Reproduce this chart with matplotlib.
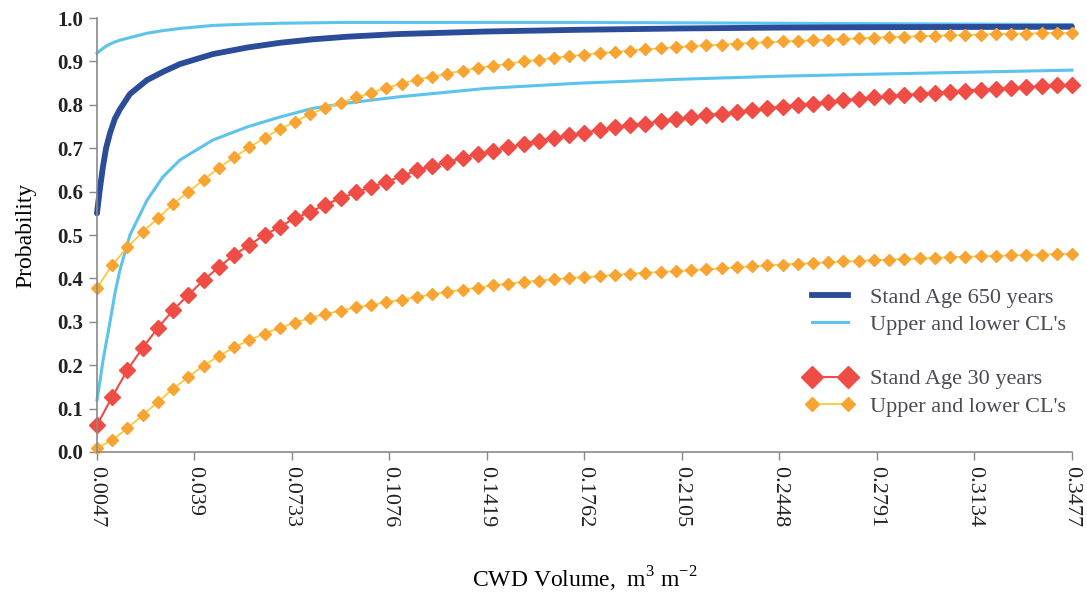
import numpy as np
import matplotlib
matplotlib.use("Agg")
import matplotlib.pyplot as plt
from matplotlib.lines import Line2D

plt.rcParams['font.family'] = ['Liberation Serif', 'DejaVu Serif']
plt.rcParams['mathtext.fontset'] = 'custom'
plt.rcParams['mathtext.rm'] = 'Liberation Serif'

# tick labels on the CWD axis
xticks = [0.0047, 0.039, 0.0733, 0.1076, 0.1419, 0.1762, 0.2105, 0.2448, 0.2791, 0.3134, 0.3477]
xtick_labels = ["0.0047", "0.039", "0.0733", "0.1076", "0.1419", "0.1762",
                "0.2105", "0.2448", "0.2791", "0.3134", "0.3477"]

# stand age 30: 65 evenly spaced CWD volumes
cwd30 = np.linspace(0.0047, 0.3477, 65)
age30 = [0.062, 0.127, 0.189, 0.240, 0.286, 0.327, 0.362, 0.396, 0.426, 0.454,
         0.477, 0.500, 0.519, 0.539, 0.553, 0.570, 0.585, 0.598, 0.611, 0.622,
         0.636, 0.649, 0.659, 0.668, 0.678, 0.686, 0.694, 0.702, 0.710, 0.717,
         0.724, 0.730, 0.736, 0.742, 0.748, 0.753, 0.757, 0.762, 0.767, 0.772,
         0.776, 0.780, 0.784, 0.788, 0.792, 0.796, 0.800, 0.803, 0.807, 0.811,
         0.814, 0.817, 0.820, 0.823, 0.825, 0.828, 0.830, 0.833, 0.835, 0.837,
         0.839, 0.841, 0.843, 0.845, 0.846]
age30_upper = [0.378, 0.431, 0.472, 0.507, 0.539, 0.571, 0.600, 0.627, 0.655, 0.679,
               0.702, 0.724, 0.744, 0.761, 0.779, 0.793, 0.805, 0.817, 0.828, 0.839,
               0.849, 0.858, 0.865, 0.872, 0.879, 0.885, 0.890, 0.895, 0.900, 0.904,
               0.908, 0.912, 0.916, 0.919, 0.922, 0.925, 0.928, 0.930, 0.933, 0.935,
               0.937, 0.939, 0.941, 0.943, 0.944, 0.946, 0.947, 0.949, 0.950, 0.952,
               0.953, 0.955, 0.956, 0.957, 0.958, 0.959, 0.960, 0.961, 0.962, 0.963,
               0.964, 0.964, 0.965, 0.966, 0.966]
age30_lower = [0.009, 0.027, 0.055, 0.085, 0.115, 0.146, 0.173, 0.199, 0.221, 0.241,
               0.258, 0.273, 0.286, 0.298, 0.309, 0.318, 0.326, 0.333, 0.339, 0.345,
               0.351, 0.357, 0.363, 0.369, 0.374, 0.379, 0.384, 0.388, 0.392, 0.395,
               0.398, 0.401, 0.403, 0.405, 0.408, 0.411, 0.413, 0.415, 0.417, 0.419,
               0.421, 0.423, 0.426, 0.428, 0.430, 0.432, 0.434, 0.435, 0.437, 0.439,
               0.440, 0.442, 0.443, 0.445, 0.446, 0.447, 0.449, 0.450, 0.451, 0.452,
               0.453, 0.454, 0.455, 0.456, 0.457]

# stand age 650: smooth curves, denser near the start
cwd650 = [0.0047, 0.0058, 0.0068, 0.0079, 0.0093, 0.0110, 0.0128, 0.0163, 0.0223,
          0.0279, 0.0339, 0.0455, 0.0575, 0.0691, 0.0807, 0.0927, 0.1102, 0.1419,
          0.1746, 0.2098, 0.2450, 0.2802, 0.3477]
age650 = [0.550, 0.610, 0.657, 0.700, 0.735, 0.768, 0.790, 0.825, 0.857, 0.876,
          0.894, 0.917, 0.932, 0.943, 0.951, 0.957, 0.963, 0.969, 0.973, 0.976,
          0.978, 0.979, 0.980]
age650_upper = [0.919, 0.925, 0.930, 0.935, 0.940, 0.945, 0.949, 0.955, 0.965, 0.971,
                0.976, 0.983, 0.986, 0.988, 0.989, 0.990, 0.990, 0.990, 0.990, 0.989,
                0.988, 0.987, 0.985]
age650_lower = [0.120, 0.165, 0.210, 0.250, 0.300, 0.365, 0.420, 0.500, 0.580, 0.634,
                0.673, 0.719, 0.749, 0.772, 0.792, 0.804, 0.818, 0.838, 0.850, 0.859,
                0.866, 0.871, 0.880]

dark_blue = "#2b4c98"
cyan = "#5cc3ec"
red = "#ef4c45"
orange = "#f7a432"
yellow = "#fdc93a"

fig = plt.figure(figsize=(10.87, 5.92), dpi=100)
ax = fig.add_axes([0.0892, 0.2365, 0.897, 0.733])

ax.plot(cwd650, age650_upper, color=cyan, lw=2.2, clip_on=False)
ax.plot(cwd650, age650_lower, color=cyan, lw=2.2, clip_on=False)
ax.plot(cwd650, age650, color=dark_blue, lw=4.2, clip_on=False, solid_capstyle='round')

ax.plot(cwd30, age30_upper, color=yellow, lw=1.3, marker='D', ms=6,
        mfc=orange, mec=orange, clip_on=False)
ax.plot(cwd30, age30_lower, color=yellow, lw=1.3, marker='D', ms=6,
        mfc=orange, mec=orange, clip_on=False)
ax.plot(cwd30, age30, color=red, lw=1.5, marker='D', ms=7.8,
        mfc=red, mec=red, clip_on=False)

ax.set_xlim(0.0047, 0.3477)
ax.set_ylim(0, 1.0)
ax.set_xticks(xticks)
ax.set_xticklabels(xtick_labels, rotation=270, fontsize=16, color="#222222")
ax.set_yticks(np.arange(0, 1.01, 0.1))
ax.set_yticklabels(["%.1f" % v for v in np.arange(0, 1.01, 0.1)],
                   fontsize=15, fontweight='bold', color="#222222")
ax.tick_params(axis='both', direction='out', length=6, width=1, color="#888888", pad=4)

for s in ['top', 'right']:
    ax.spines[s].set_visible(False)
for s in ['left', 'bottom']:
    ax.spines[s].set_color("#8a8a8a")
    ax.spines[s].set_linewidth(1.2)

ax.set_ylabel("Probability", fontsize=17, labelpad=15)
ax.set_xlabel(r"CWD Volume,  m$^\mathrm{3}$ m$^\mathrm{-2}$", fontsize=17, labelpad=27)

handles = [
    Line2D([], [], color=dark_blue, lw=4.2),
    Line2D([], [], color=cyan, lw=2.2),
    Line2D([], [], color='none'),
    Line2D([], [], color=red, lw=1.5, marker='D', ms=11, mfc=red, mec=red),
    Line2D([], [], color=yellow, lw=1.3, marker='D', ms=7, mfc=orange, mec=orange),
]
labels = ["Stand Age 650 years", "Upper and lower CL's", "",
          "Stand Age 30 years", "Upper and lower CL's"]
leg = fig.legend(handles, labels, loc='upper left', bbox_to_anchor=(0.733, 0.53),
                 frameon=False, fontsize=16, numpoints=2, handlelength=2.2,
                 handletextpad=0.7, labelspacing=0.3, borderaxespad=0)
for t in leg.get_texts():
    t.set_color("#4a4a55")

fig.savefig("out.png", dpi=100)
